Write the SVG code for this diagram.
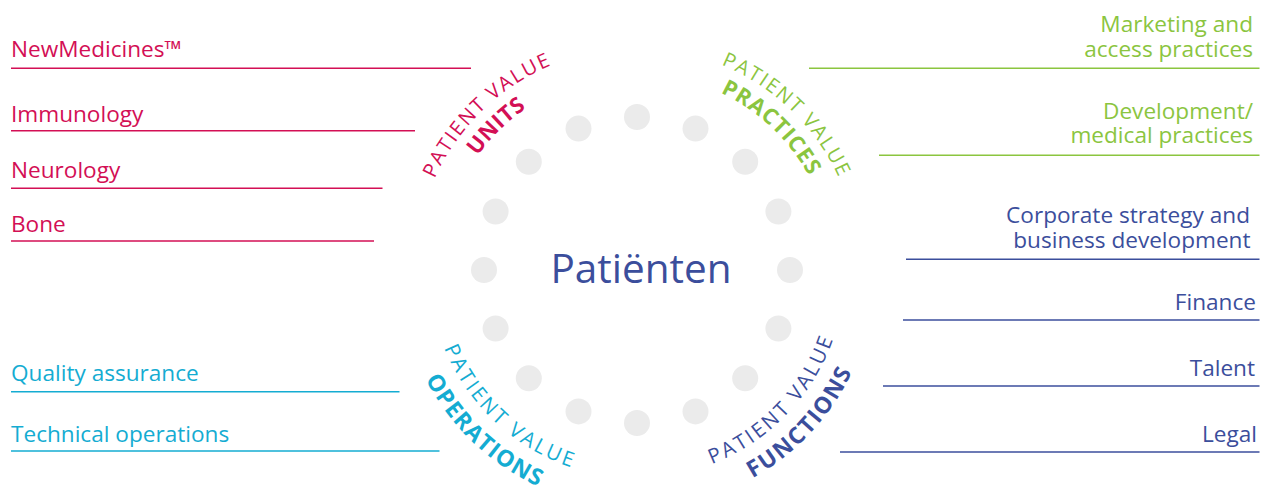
<svg xmlns="http://www.w3.org/2000/svg" xmlns:xlink="http://www.w3.org/1999/xlink" width="1268" height="487" viewBox="0 0 1268 487">
<style>
.t{font-family:"Open Sans","Liberation Sans",sans-serif;font-size:22.6px}
.thin{font-family:"Open Sans","Liberation Sans",sans-serif;font-size:20px;letter-spacing:1.8px}
.thinb{font-family:"Open Sans","Liberation Sans",sans-serif;font-size:20.5px;letter-spacing:2.6px}
.bold{font-family:"Open Sans","Liberation Sans",sans-serif;font-weight:700;font-size:22px}
.boldb{font-family:"Open Sans","Liberation Sans",sans-serif;font-weight:700;font-size:23px}
.u{stroke-width:1.6;fill:none}
.mag{fill:#d30f55}.magl{stroke:#d30f55}
.grn{fill:#8bc53f}.grnl{stroke:#8bc53f}
.cya{fill:#14acd2}.cyal{stroke:#14acd2}
.nav{fill:#3b4e9c}.navl{stroke:#3b4e9c}
.dot{fill:#ebebeb}
</style>
<defs>
<path id="arcTopThin" d="M415,270 A222,222 0 0 1 859,270"/>
<path id="arcTopBold" d="M441,270 A196,196 0 0 1 833,270"/>
<path id="arcBotThin" d="M429,270 A208,208 0 0 0 845,270"/>
<path id="arcBotBold" d="M399,270 A238,238 0 0 0 875,270"/>
</defs>
<rect width="1268" height="487" fill="#ffffff"/>
<g id="dots">
<circle class="dot" cx="637" cy="117" r="13"/>
<circle class="dot" cx="695.5" cy="128.6" r="13"/>
<circle class="dot" cx="745.2" cy="161.8" r="13"/>
<circle class="dot" cx="778.4" cy="211.5" r="13"/>
<circle class="dot" cx="790" cy="270" r="13"/>
<circle class="dot" cx="778.4" cy="328.5" r="13"/>
<circle class="dot" cx="745.2" cy="378.2" r="13"/>
<circle class="dot" cx="695.5" cy="411.4" r="13"/>
<circle class="dot" cx="637" cy="423" r="13"/>
<circle class="dot" cx="578.5" cy="411.4" r="13"/>
<circle class="dot" cx="528.8" cy="378.2" r="13"/>
<circle class="dot" cx="495.6" cy="328.5" r="13"/>
<circle class="dot" cx="484" cy="270" r="13"/>
<circle class="dot" cx="495.6" cy="211.5" r="13"/>
<circle class="dot" cx="528.8" cy="161.8" r="13"/>
<circle class="dot" cx="578.5" cy="128.6" r="13"/>
</g>
<g id="center">
<text x="641" y="283" text-anchor="middle" font-family="'Open Sans','Liberation Sans',sans-serif" font-size="40.5" fill="#3b4e9c">Patiënten</text>
</g>
<g id="label-units">
<text class="thin mag" text-anchor="middle"><textPath href="#arcTopThin" xlink:href="#arcTopThin" startOffset="178">PATIENT VALUE</textPath></text>
<text class="bold mag" text-anchor="middle" letter-spacing="0.5"><textPath href="#arcTopBold" xlink:href="#arcTopBold" startOffset="156">UNITS</textPath></text>
</g>
<g id="label-practices">
<text class="thin grn" text-anchor="middle"><textPath href="#arcTopThin" xlink:href="#arcTopThin" startOffset="519">PATIENT VALUE</textPath></text>
<text class="bold grn" text-anchor="middle" letter-spacing="0.9"><textPath href="#arcTopBold" xlink:href="#arcTopBold" startOffset="456">PRACTICES</textPath></text>
</g>
<g id="label-operations">
<text class="thinb cya" text-anchor="middle"><textPath href="#arcBotThin" xlink:href="#arcBotThin" startOffset="171">PATIENT VALUE</textPath></text>
<text class="boldb cya" text-anchor="middle" letter-spacing="1.2"><textPath href="#arcBotBold" xlink:href="#arcBotBold" startOffset="193">OPERATIONS</textPath></text>
</g>
<g id="label-functions">
<text class="thinb nav" text-anchor="middle"><textPath href="#arcBotThin" xlink:href="#arcBotThin" startOffset="494">PATIENT VALUE</textPath></text>
<text class="boldb nav" text-anchor="middle" letter-spacing="1.7"><textPath href="#arcBotBold" xlink:href="#arcBotBold" startOffset="569">FUNCTIONS</textPath></text>
</g>
<g id="units-list">
<g id="item-newmedicines"><text class="t mag" x="11" y="56.7">NewMedicines™</text><line class="u magl" x1="11" y1="68.3" x2="471" y2="68.3"/></g>
<g id="item-immunology"><text class="t mag" x="11" y="121.7">Immunology</text><line class="u magl" x1="11" y1="130.7" x2="415" y2="130.7"/></g>
<g id="item-neurology"><text class="t mag" x="11" y="178.3">Neurology</text><line class="u magl" x1="11" y1="188.3" x2="382.5" y2="188.3"/></g>
<g id="item-bone"><text class="t mag" x="11" y="231.7">Bone</text><line class="u magl" x1="11" y1="241" x2="374" y2="241"/></g>
</g>
<g id="operations-list">
<g id="item-quality"><text class="t cya" x="11" y="380.7">Quality assurance</text><line class="u cyal" x1="11" y1="391.7" x2="399.5" y2="391.7"/></g>
<g id="item-technical"><text class="t cya" x="11" y="441.7">Technical operations</text><line class="u cyal" x1="11" y1="451" x2="439.5" y2="451"/></g>
</g>
<g id="practices-list">
<g id="item-marketing"><text class="t grn" text-anchor="end"><tspan x="1253" y="31.7">Marketing and</tspan><tspan x="1253" y="56.7">access practices</tspan></text><line class="u grnl" x1="809" y1="68.3" x2="1259.5" y2="68.3"/></g>
<g id="item-development"><text class="t grn" text-anchor="end"><tspan x="1253" y="119.3">Development/</tspan><tspan x="1253" y="143.3">medical practices</tspan></text><line class="u grnl" x1="879" y1="155.3" x2="1259.5" y2="155.3"/></g>
</g>
<g id="functions-list">
<g id="item-corporate"><text class="t nav" text-anchor="end"><tspan x="1250" y="222.7">Corporate strategy and</tspan><tspan x="1250.5" y="248.3">business development</tspan></text><line class="u navl" x1="906" y1="259.3" x2="1259.5" y2="259.3"/></g>
<g id="item-finance"><text class="t nav" x="1256" y="310" text-anchor="end">Finance</text><line class="u navl" x1="903" y1="320" x2="1259.5" y2="320"/></g>
<g id="item-talent"><text class="t nav" x="1255" y="376" text-anchor="end">Talent</text><line class="u navl" x1="883" y1="386" x2="1259.5" y2="386"/></g>
<g id="item-legal"><text class="t nav" x="1257" y="441.7" text-anchor="end">Legal</text><line class="u navl" x1="840" y1="452" x2="1259.5" y2="452"/></g>
</g>
</svg>
